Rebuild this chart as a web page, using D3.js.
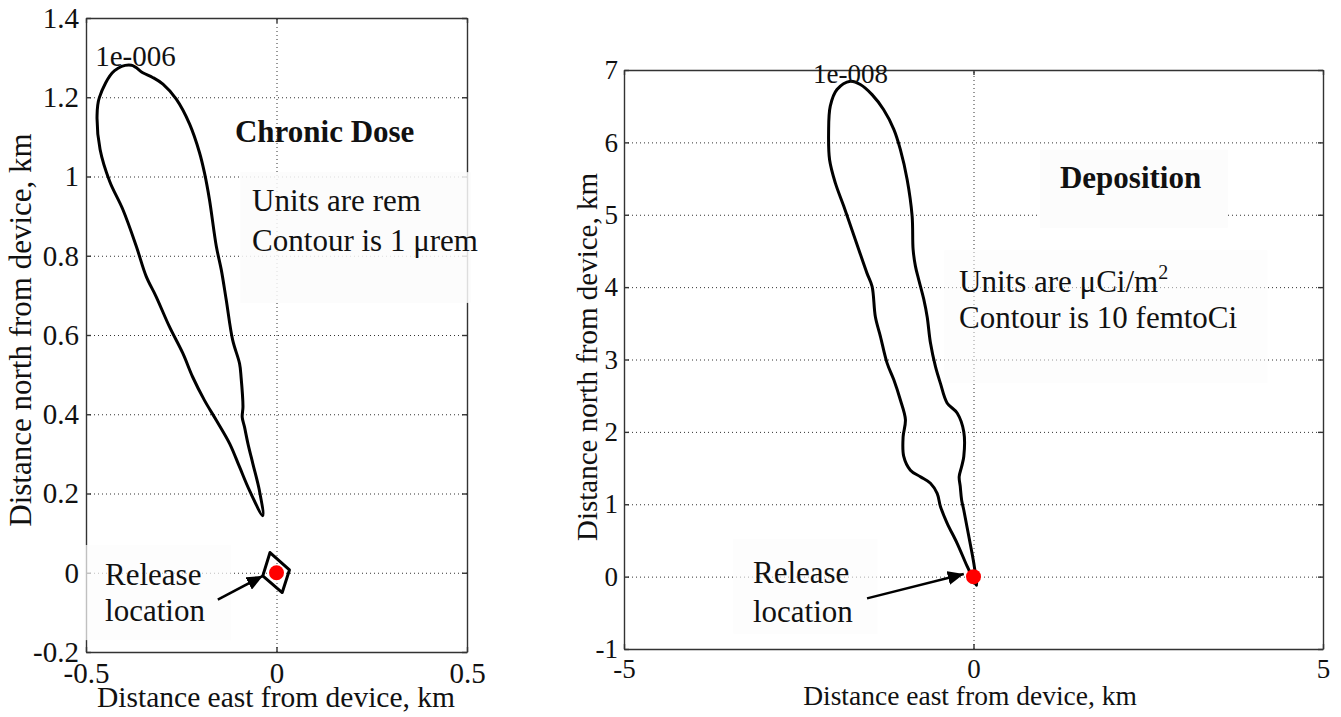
<!DOCTYPE html>
<html>
<head>
<meta charset="utf-8">
<script src="https://cdn.jsdelivr.net/npm/d3@7"></script>
<style>
  body { margin: 0; background: #fff; }
  text { font-family: "Liberation Serif", "DejaVu Serif", "Times New Roman", Times, serif; fill: #111; }
  .grid line { stroke: #333; stroke-dasharray: 1,3; stroke-width: 1; }
  .grid path { display: none; }
  .axis path, .axis line { stroke: #333; stroke-width: 1.4; }
</style>
</head>
<body>
<script>
// ---- chronic dose panel (km) ----
let doseTicksX = [-0.5, 0, 0.5];
let doseTickLabelsX = ["-0.5", "0", "0.5"];
let doseTicksY = [-0.2, 0, 0.2, 0.4, 0.6, 0.8, 1, 1.2, 1.4];
let doseTickLabelsY = ["-0.2", "0", "0.2", "0.4", "0.6", "0.8", "1", "1.2", "1.4"];

// 1e-006 contour
let doseContour = [
    [-0.381, 1.281], [-0.425, 1.267], [-0.465, 1.199], [-0.471, 1.153], [-0.463, 1.068],
    [-0.438, 0.988], [-0.403, 0.916], [-0.368, 0.824], [-0.342, 0.748], [-0.316, 0.697],
    [-0.281, 0.621], [-0.246, 0.554], [-0.220, 0.494], [-0.189, 0.435], [-0.158, 0.385],
    [-0.123, 0.326], [-0.097, 0.267], [-0.071, 0.208], [-0.036, 0.144],
    [-0.045, 0.208], [-0.062, 0.275], [-0.075, 0.326], [-0.084, 0.368], [-0.090, 0.393],
    [-0.088, 0.419], [-0.093, 0.494], [-0.097, 0.528], [-0.115, 0.587], [-0.132, 0.689],
    [-0.145, 0.765], [-0.158, 0.824], [-0.176, 0.942], [-0.189, 1.009], [-0.202, 1.060],
    [-0.228, 1.132], [-0.263, 1.195], [-0.298, 1.233], [-0.325, 1.250], [-0.351, 1.262]
];
// small closed contour round the release point
let doseInner = [[-0.017, 0.051], [0.034, 0.007], [0.015, -0.050], [-0.036, -0.008]];

// ---- deposition panel (km) ----
let depTicksX = [-5, 0, 5];
let depTickLabelsX = ["-5", "0", "5"];
let depTicksY = [-1, 0, 1, 2, 3, 4, 5, 6, 7];
let depTickLabelsY = ["-1", "0", "1", "2", "3", "4", "5", "6", "7"];

// 1e-008 contour
let depContour = [
    [-1.762, 6.845], [-1.953, 6.73], [-2.049, 6.50], [-2.073, 6.13], [-2.059, 5.76],
    [-1.977, 5.44], [-1.857, 5.12], [-1.738, 4.79], [-1.642, 4.52], [-1.523, 4.19],
    [-1.451, 4.01], [-1.404, 3.59], [-1.332, 3.32], [-1.236, 2.95], [-1.140, 2.72],
    [-1.046, 2.44], [-0.974, 2.17], [-1.007, 1.93], [-0.998, 1.66], [-0.903, 1.47],
    [-0.76, 1.38], [-0.616, 1.29], [-0.52, 1.15], [-0.473, 0.97], [-0.378, 0.74],
    [-0.234, 0.46], [-0.09, 0.14], [-0.02, 0.0], [0.043, -0.12],
    [0.005, 0.18], [-0.066, 0.55], [-0.139, 0.92], [-0.17, 1.06], [-0.19, 1.25],
    [-0.205, 1.38], [-0.17, 1.52], [-0.139, 1.66], [-0.139, 2.00], [-0.234, 2.26],
    [-0.378, 2.40], [-0.473, 2.67], [-0.544, 2.90], [-0.616, 3.23], [-0.663, 3.59],
    [-0.711, 3.83], [-0.783, 4.10], [-0.831, 4.29], [-0.864, 4.52], [-0.878, 4.98],
    [-0.950, 5.49], [-1.046, 5.90], [-1.140, 6.18], [-1.285, 6.45], [-1.451, 6.66],
    [-1.619, 6.80]
];

let releasePoint = [0, 0];

let svg = d3.select("body").append("svg")
    .attr("width", 1341)
    .attr("height", 717)
    .style("display", "block");

svg.append("rect").attr("width", 1341).attr("height", 717).attr("fill", "#fff");

svg.append("defs").append("marker")
    .attr("id", "head")
    .attr("markerUnits", "userSpaceOnUse")
    .attr("viewBox", "0 0 16 14")
    .attr("refX", 16).attr("refY", 7)
    .attr("markerWidth", 16).attr("markerHeight", 14)
    .attr("orient", "auto")
    .append("path")
    .attr("d", "M0,0 L16,7 L0,14 Z")
    .attr("fill", "#000");

function drawPanel(p) {
    let x = d3.scaleLinear().domain(p.xDomain).range([p.left, p.right]);
    let y = d3.scaleLinear().domain(p.yDomain).range([p.bottom, p.top]);
    let w = p.right - p.left, h = p.bottom - p.top;

    // dotted grid
    svg.append("g").attr("class", "grid")
        .attr("transform", "translate(0," + p.bottom + ")")
        .call(d3.axisBottom(x).tickValues(p.ticksX).tickSize(-h).tickFormat(""));
    svg.append("g").attr("class", "grid")
        .attr("transform", "translate(" + p.left + ",0)")
        .call(d3.axisLeft(y).tickValues(p.ticksY).tickSize(-w).tickFormat(""));

    // contour lines
    p.contours.forEach(c => {
        let line = d3.line().x(d => x(d[0])).y(d => y(d[1]))
            .curve(c.smooth ? d3.curveCatmullRomClosed.alpha(0.5) : d3.curveLinearClosed);
        svg.append("path")
            .attr("d", line(c.points))
            .attr("fill", "none")
            .attr("stroke", "#000")
            .attr("stroke-width", 3)
            .attr("stroke-linejoin", "round");
    });

    // box axes, ticks pointing inward
    let axes = [
        svg.append("g").attr("class", "axis")
            .attr("transform", "translate(0," + p.bottom + ")")
            .call(d3.axisBottom(x).tickValues(p.ticksX).tickSize(-5).tickSizeOuter(0)
                .tickPadding(p.padX).tickFormat((d, i) => p.labelsX[i])),
        svg.append("g").attr("class", "axis")
            .attr("transform", "translate(" + p.left + ",0)")
            .call(d3.axisLeft(y).tickValues(p.ticksY).tickSize(-5).tickSizeOuter(0)
                .tickPadding(p.padY).tickFormat((d, i) => p.labelsY[i])),
        svg.append("g").attr("class", "axis")
            .attr("transform", "translate(0," + p.top + ")")
            .call(d3.axisTop(x).tickValues(p.ticksX).tickSize(-5).tickSizeOuter(0).tickFormat("")),
        svg.append("g").attr("class", "axis")
            .attr("transform", "translate(" + p.right + ",0)")
            .call(d3.axisRight(y).tickValues(p.ticksY).tickSize(-5).tickSizeOuter(0).tickFormat(""))
    ];
    axes.forEach(a => a.attr("font-family", null).attr("font-size", null)
        .selectAll("text").style("font-size", p.tickFont + "px"));

    // pasted text boxes, they hide part of the grid
    p.boxes.forEach(b => {
        svg.append("rect")
            .attr("x", x(b.x0)).attr("y", y(b.y1))
            .attr("width", x(b.x1) - x(b.x0)).attr("height", y(b.y0) - y(b.y1))
            .attr("fill", "#fcfcfc")
            .attr("opacity", b.op);
    });

    // axis titles
    svg.append("text")
        .attr("x", p.xTitle[0]).attr("y", p.xTitle[1])
        .attr("text-anchor", "middle")
        .style("font-size", p.titleFont + "px")
        .text("Distance east from device, km");
    svg.append("text")
        .attr("transform", "translate(" + p.yTitle[0] + "," + p.yTitle[1] + ") rotate(-90)")
        .attr("text-anchor", "middle")
        .style("font-size", p.yTitleFont + "px")
        .text("Distance north from device, km");

    // contour level label
    svg.append("text")
        .attr("x", x(p.level.x)).attr("y", y(p.level.y))
        .style("font-size", p.tickFont + "px")
        .text(p.level.text);

    // notes
    p.notes.forEach(n => {
        let t = svg.append("text")
            .attr("x", x(n.x)).attr("y", y(n.y))
            .style("font-size", "31px")
            .style("font-weight", n.bold ? "bold" : "normal")
            .text(n.text);
        if (n.sup) {
            t.append("tspan").attr("dy", -13).style("font-size", "20px").text(n.sup);
        }
    });

    // release arrow and point
    svg.append("line")
        .attr("x1", x(p.arrow[0][0])).attr("y1", y(p.arrow[0][1]))
        .attr("x2", x(p.arrow[1][0])).attr("y2", y(p.arrow[1][1]))
        .attr("stroke", "#000").attr("stroke-width", 2.5)
        .attr("marker-end", "url(#head)");
    svg.append("circle")
        .attr("cx", x(releasePoint[0])).attr("cy", y(releasePoint[1]))
        .attr("r", 7.5)
        .attr("fill", "#ff0000");
}

drawPanel({
    xDomain: [-0.5, 0.5], yDomain: [-0.2, 1.4],
    left: 86, right: 467, top: 18, bottom: 652,
    ticksX: doseTicksX, labelsX: doseTickLabelsX,
    ticksY: doseTicksY, labelsY: doseTickLabelsY,
    tickFont: 29, padX: 10, padY: 7,
    titleFont: 29.5, yTitleFont: 31,
    xTitle: [276, 707], yTitle: [31, 330],
    contours: [{points: doseContour, smooth: true}, {points: doseInner, smooth: false}],
    level: {x: -0.476, y: 1.279, text: "1e-006"},
    boxes: [
        {x0: -0.095, x1: 0.51, y0: 0.681, y1: 1.011, op: 0.85},
        {x0: -0.505, x1: -0.12, y0: -0.17, y1: 0.07, op: 0.7}
    ],
    notes: [
        {x: -0.109, y: 1.087, text: "Chronic Dose", bold: true},
        {x: -0.064, y: 0.913, text: "Units are rem"},
        {x: -0.064, y: 0.813, text: "Contour is 1 \u03bcrem"},
        {x: -0.450, y: -0.031, text: "Release"},
        {x: -0.450, y: -0.123, text: "location"}
    ],
    arrow: [[-0.154, -0.068], [-0.036, -0.008]]
});

drawPanel({
    xDomain: [-5, 5], yDomain: [-1, 7],
    left: 624, right: 1323, top: 70, bottom: 649,
    ticksX: depTicksX, labelsX: depTickLabelsX,
    ticksY: depTicksY, labelsY: depTickLabelsY,
    tickFont: 27, padX: 10, padY: 6,
    titleFont: 27.5, yTitleFont: 29,
    xTitle: [970, 705], yTitle: [597, 357],
    contours: [{points: depContour, smooth: true}],
    level: {x: -2.296, y: 6.82, text: "1e-008"},
    boxes: [
        {x0: 0.95, x1: 3.64, y0: 4.82, y1: 5.9, op: 1},
        {x0: -0.42, x1: 4.2, y0: 2.68, y1: 4.51, op: 0.5},
        {x0: -3.44, x1: -1.37, y0: -0.79, y1: 0.52, op: 0.6}
    ],
    notes: [
        {x: 1.237, y: 5.37, text: "Deposition", bold: true},
        {x: -0.207, y: 3.937, text: "Units are \u03bcCi/m", sup: "2"},
        {x: -0.207, y: 3.431, text: "Contour is 10 femtoCi"},
        {x: -3.155, y: -0.088, text: "Release"},
        {x: -3.155, y: -0.623, text: "location"}
    ],
    arrow: [[-1.523, -0.30], [-0.139, 0.036]]
});
</script>
</body>
</html>
